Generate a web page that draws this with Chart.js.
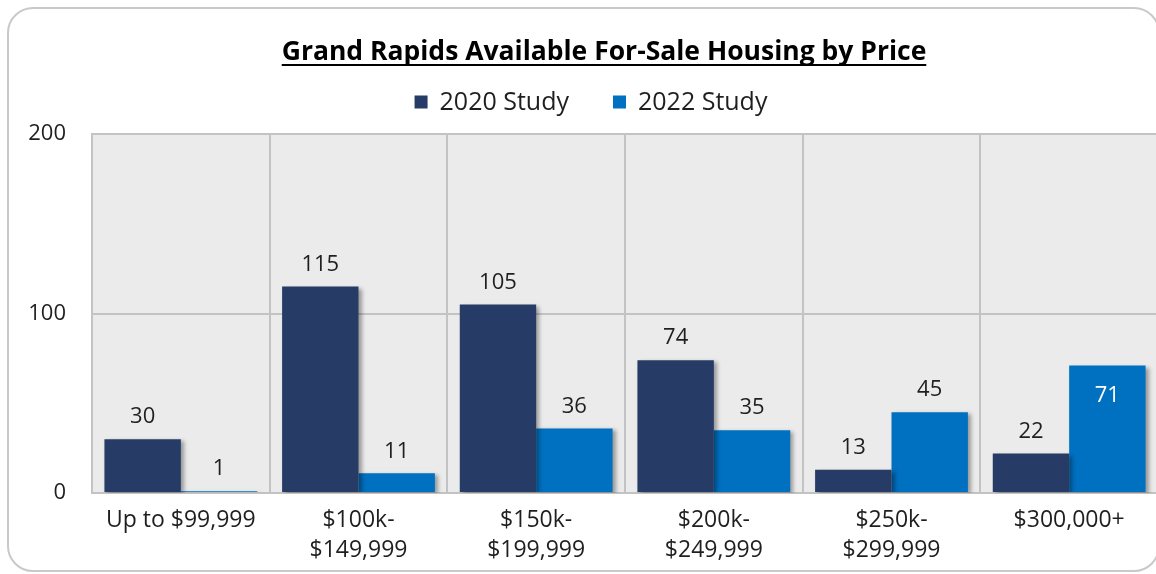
<!DOCTYPE html>
<html lang="en">
<head>
<meta charset="UTF-8" />
<title>Grand Rapids Available For-Sale Housing by Price</title>
<script src="https://cdn.jsdelivr.net/npm/chart.js"></script>
<style>
  html, body { margin: 0; padding: 0; background: #fff; overflow: hidden; }
  #frame { position: absolute; left: 7px; top: 7px; width: 1153px; height: 565px; border: 2px solid #c9c9c9; border-radius: 26px; box-sizing: border-box; }
  #wrap { position: absolute; left: 0; top: 0; width: 1160px; height: 574px; }
</style>
</head>
<body>
<div id="frame"></div>
<div id="wrap"><canvas id="chart"></canvas></div>
<script>
  const TITLE = "Grand Rapids Available For-Sale Housing by Price";
  const categories = [
    "Up to $99,999",
    ["$100k-", "$149,999"],
    ["$150k-", "$199,999"],
    ["$200k-", "$249,999"],
    ["$250k-", "$299,999"],
    "$300,000+"
  ];
  const seriesNames = ["2020 Study", "2022 Study"];
  const study2020 = [30, 115, 105, 74, 13, 22];
  const study2022 = [1, 11, 36, 35, 45, 71];
  const yTicks = [0, 100, 200];
  // which labels Excel put inside the bar
  const insideLabels2022 = [false, false, false, false, false, true];

  const NAVY = "#263c66";
  const BLUE = "#0070c0";
  const FONT = "'Open Sans', sans-serif";
  const TEXT = "#1f1f1f";

  const chrome = {
    id: "chrome",
    beforeDraw(chart) {
      const { ctx, chartArea: a } = chart;
      ctx.save();
      ctx.fillStyle = "#ebebeb";
      ctx.fillRect(a.left, a.top, a.right - a.left, a.bottom - a.top);
      ctx.restore();
    },
    afterDraw(chart) {
      const ctx = chart.ctx;
      ctx.save();
      // title, underlined
      ctx.font = "bold 26.5px " + FONT;
      ctx.fillStyle = "#000";
      ctx.textAlign = "center";
      ctx.textBaseline = "alphabetic";
      const tx = 604, ty = 60;
      ctx.fillText(TITLE, tx, ty);
      const tw = ctx.measureText(TITLE).width;
      ctx.fillRect(tx - tw / 2, ty + 4, tw, 2);

      // legend
      ctx.font = "25px " + FONT;
      ctx.textAlign = "left";
      ctx.textBaseline = "middle";
      const box = 13, gapText = 12, gapItem = 44;
      const widths = seriesNames.map(n => box + gapText + ctx.measureText(n).width);
      let x = 591 - (widths[0] + widths[1] + gapItem) / 2;
      const ly = 102;
      [NAVY, BLUE].forEach((c, i) => {
        ctx.fillStyle = c;
        ctx.fillRect(x, ly - box / 2, box, box);
        ctx.fillStyle = TEXT;
        ctx.fillText(seriesNames[i], x + box + gapText, ly + 1);
        x += widths[i] + gapItem;
      });
      ctx.restore();
    }
  };

  const shadow = {
    id: "shadow",
    beforeDatasetDraw(chart) {
      const ctx = chart.ctx;
      ctx.save();
      ctx.shadowColor = "rgba(0,0,0,0.35)";
      ctx.shadowBlur = 4;
      ctx.shadowOffsetX = 3;
      ctx.shadowOffsetY = 2;
    },
    afterDatasetDraw(chart) {
      chart.ctx.restore();
    }
  };

  const valueLabels = {
    id: "valueLabels",
    afterDatasetsDraw(chart) {
      const ctx = chart.ctx;
      ctx.save();
      ctx.font = "22px " + FONT;
      ctx.textAlign = "center";
      ctx.textBaseline = "middle";
      chart.data.datasets.forEach((ds, di) => {
        chart.getDatasetMeta(di).data.forEach((bar, i) => {
          const inside = di === 1 && insideLabels2022[i];
          ctx.fillStyle = inside ? "#fff" : TEXT;
          ctx.fillText(String(ds.data[i]), bar.x, inside ? bar.y + 30 : bar.y - 22);
        });
      });
      ctx.restore();
    }
  };

  new Chart(document.getElementById("chart"), {
    type: "bar",
    data: {
      labels: categories,
      datasets: [
        { label: seriesNames[0], data: study2020, backgroundColor: NAVY },
        { label: seriesNames[1], data: study2022, backgroundColor: BLUE }
      ]
    },
    options: {
      responsive: true,
      maintainAspectRatio: false,
      animation: false,
      devicePixelRatio: 1,
      layout: { padding: { top: 134, right: 2, left: 0, bottom: 0 } },
      datasets: { bar: { categoryPercentage: 0.86, barPercentage: 1.0 } },
      plugins: { legend: { display: false }, title: { display: false }, tooltip: { enabled: false } },
      scales: {
        x: {
          grid: { offset: true, color: "#c3c3c3", lineWidth: 2, drawTicks: false },
          border: { display: false },
          ticks: { color: TEXT, font: { family: FONT, size: 23, lineHeight: 1.3 }, padding: 13, maxRotation: 0, autoSkip: false },
          afterFit(s) { s.height = 81; }
        },
        y: {
          min: 0, max: 200,
          afterBuildTicks(s) { s.ticks = yTicks.map(v => ({ value: v })); },
          grid: { color: "#c3c3c3", lineWidth: 2, drawTicks: false },
          border: { color: "#c3c3c3", width: 2 },
          ticks: { color: TEXT, font: { family: FONT, size: 22 }, padding: 26 },
          afterFit(s) { s.width = 92; }
        }
      }
    },
    plugins: [chrome, shadow, valueLabels]
  });
</script>
</body>
</html>
